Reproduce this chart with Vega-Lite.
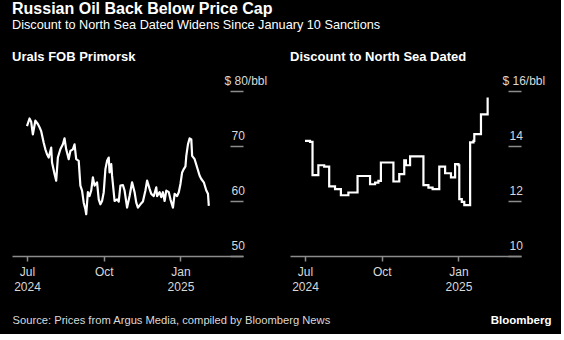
{
  "$schema": "https://vega.github.io/schema/vega-lite/v6.json",
  "background": "#000000",
  "padding": {"left": 12, "top": 1, "right": 10, "bottom": 8},
  "bounds": "flush",
  "spacing": 47,
  "config": {
    "font": "Liberation Sans",
    "view": {"stroke": null},
    "axis": {"grid": false}
  },
  "title": {
    "text": "Russian Oil Back Below Price Cap",
    "subtitle": "Discount to North Sea Dated Widens Since January 10 Sanctions",
    "anchor": "start",
    "color": "#ffffff",
    "fontSize": 16,
    "fontWeight": "bold",
    "subtitleColor": "#ffffff",
    "subtitleFontSize": 12.7,
    "subtitlePadding": 2,
    "offset": 19
  },
  "hconcat": [
    {
      "width": 231,
      "height": 165,
      "title": {"text": "Urals FOB Primorsk", "anchor": "start", "fontSize": 13, "fontWeight": "bold", "color": "#ffffff", "offset": 10},
      "data": {"values": [
        {"date": "2024-07-01", "price": 73.6},
        {"date": "2024-07-04", "price": 75.0},
        {"date": "2024-07-06", "price": 74.4},
        {"date": "2024-07-08", "price": 72.1},
        {"date": "2024-07-11", "price": 74.6},
        {"date": "2024-07-14", "price": 74.0},
        {"date": "2024-07-16", "price": 73.4},
        {"date": "2024-07-18", "price": 72.7},
        {"date": "2024-07-21", "price": 70.6},
        {"date": "2024-07-23", "price": 69.4},
        {"date": "2024-07-25", "price": 68.5},
        {"date": "2024-07-27", "price": 67.9},
        {"date": "2024-07-30", "price": 69.7},
        {"date": "2024-07-31", "price": 67.0},
        {"date": "2024-08-03", "price": 64.9},
        {"date": "2024-08-05", "price": 63.7},
        {"date": "2024-08-07", "price": 67.9},
        {"date": "2024-08-10", "price": 69.4},
        {"date": "2024-08-13", "price": 70.3},
        {"date": "2024-08-15", "price": 71.4},
        {"date": "2024-08-17", "price": 69.4},
        {"date": "2024-08-20", "price": 67.6},
        {"date": "2024-08-22", "price": 69.1},
        {"date": "2024-08-25", "price": 69.4},
        {"date": "2024-08-27", "price": 70.3},
        {"date": "2024-08-29", "price": 67.6},
        {"date": "2024-09-01", "price": 67.3},
        {"date": "2024-09-03", "price": 62.8},
        {"date": "2024-09-05", "price": 61.9},
        {"date": "2024-09-07", "price": 59.7},
        {"date": "2024-09-09", "price": 58.5},
        {"date": "2024-09-10", "price": 57.6},
        {"date": "2024-09-12", "price": 61.6},
        {"date": "2024-09-14", "price": 60.9},
        {"date": "2024-09-16", "price": 61.9},
        {"date": "2024-09-18", "price": 64.3},
        {"date": "2024-09-20", "price": 62.8},
        {"date": "2024-09-23", "price": 63.4},
        {"date": "2024-09-25", "price": 60.3},
        {"date": "2024-09-27", "price": 59.4},
        {"date": "2024-09-29", "price": 60.0},
        {"date": "2024-10-01", "price": 61.6},
        {"date": "2024-10-03", "price": 65.8},
        {"date": "2024-10-05", "price": 67.3},
        {"date": "2024-10-07", "price": 67.9},
        {"date": "2024-10-08", "price": 65.2},
        {"date": "2024-10-10", "price": 66.7},
        {"date": "2024-10-11", "price": 64.6},
        {"date": "2024-10-14", "price": 60.0},
        {"date": "2024-10-17", "price": 60.3},
        {"date": "2024-10-19", "price": 59.9},
        {"date": "2024-10-21", "price": 62.8},
        {"date": "2024-10-24", "price": 62.9},
        {"date": "2024-10-26", "price": 61.9},
        {"date": "2024-10-29", "price": 58.8},
        {"date": "2024-11-01", "price": 60.9},
        {"date": "2024-11-04", "price": 63.4},
        {"date": "2024-11-07", "price": 61.6},
        {"date": "2024-11-09", "price": 59.7},
        {"date": "2024-11-11", "price": 58.8},
        {"date": "2024-11-14", "price": 59.4},
        {"date": "2024-11-17", "price": 59.9},
        {"date": "2024-11-20", "price": 61.9},
        {"date": "2024-11-22", "price": 63.7},
        {"date": "2024-11-25", "price": 62.2},
        {"date": "2024-11-27", "price": 61.3},
        {"date": "2024-11-30", "price": 60.9},
        {"date": "2024-12-03", "price": 62.5},
        {"date": "2024-12-04", "price": 60.9},
        {"date": "2024-12-07", "price": 61.6},
        {"date": "2024-12-09", "price": 60.7},
        {"date": "2024-12-11", "price": 61.6},
        {"date": "2024-12-13", "price": 60.0},
        {"date": "2024-12-15", "price": 61.9},
        {"date": "2024-12-18", "price": 61.6},
        {"date": "2024-12-20", "price": 60.3},
        {"date": "2024-12-23", "price": 58.8},
        {"date": "2024-12-25", "price": 61.3},
        {"date": "2024-12-28", "price": 60.9},
        {"date": "2024-12-30", "price": 61.6},
        {"date": "2025-01-01", "price": 63.1},
        {"date": "2025-01-03", "price": 65.2},
        {"date": "2025-01-05", "price": 65.8},
        {"date": "2025-01-07", "price": 66.3},
        {"date": "2025-01-08", "price": 68.2},
        {"date": "2025-01-10", "price": 70.3},
        {"date": "2025-01-12", "price": 71.4},
        {"date": "2025-01-14", "price": 71.2},
        {"date": "2025-01-15", "price": 68.2},
        {"date": "2025-01-18", "price": 67.6},
        {"date": "2025-01-21", "price": 66.1},
        {"date": "2025-01-24", "price": 64.6},
        {"date": "2025-01-26", "price": 64.0},
        {"date": "2025-01-29", "price": 63.4},
        {"date": "2025-02-01", "price": 61.9},
        {"date": "2025-02-03", "price": 61.3},
        {"date": "2025-02-04", "price": 59.1}
      ]},
      "mark": {"type": "line", "color": "#ffffff", "strokeWidth": 2.2, "strokeJoin": "round"},
      "encoding": {
        "x": {
          "field": "date", "type": "temporal",
          "scale": {"type": "utc", "domain": [{"year": 2024, "month": 6, "date": 13, "utc": true}, {"year": 2025, "month": 3, "date": 17, "utc": true}], "nice": false},
          "axis": {
            "tickCount": {"interval": "month", "step": 3},
            "labelExpr": "utcmonth(datum.value) == 9 ? 'Oct' : [utcFormat(datum.value, '%b'), utcFormat(datum.value, '%Y')]",
            "labelFontSize": 12, "labelColor": "#d9d9d9", "labelPadding": 5, "labelLineHeight": 15,
            "labelFlush": false, "labelOverlap": false,
            "domainColor": "#8c8c8c", "domainWidth": 1.5,
            "tickColor": "#8c8c8c", "tickSize": 5, "tickWidth": 1.5,
            "title": "Source: Prices from Argus Media, compiled by Bloomberg News",
            "titleAnchor": "start", "titleAlign": "left", "titleFontSize": 11.2, "titleFontWeight": "normal",
            "titleColor": "#d9d9d9", "titlePadding": 22
          }
        },
        "y": {
          "field": "price", "type": "quantitative",
          "scale": {"domain": [50, 80], "nice": false, "zero": false},
          "axis": {
            "orient": "right", "offset": -13, "domain": false,
            "values": [50, 60, 70, 80],
            "tickSize": 13, "tickColor": "#8c8c8c", "tickWidth": 1.5,
            "labelAlign": "left", "labelBaseline": "bottom",
            "labelPadding": {"condition": {"test": "datum.value == 80", "value": -19}, "value": -12},
            "labelOffset": -4,
            "labelFontSize": 12, "labelColor": "#d9d9d9",
            "labelExpr": "datum.value == 80 ? '$ 80/bbl' : datum.label",
            "title": null
          }
        }
      }
    },
    {
      "width": 231,
      "height": 165,
      "title": {"text": "Discount to North Sea Dated", "anchor": "start", "fontSize": 13, "fontWeight": "bold", "color": "#ffffff", "offset": 10},
      "data": {"values": [
        {"date": "2024-07-01", "discount": 14.19},
        {"date": "2024-07-07", "discount": 14.15},
        {"date": "2024-07-10", "discount": 12.94},
        {"date": "2024-07-17", "discount": 13.30},
        {"date": "2024-07-24", "discount": 13.25},
        {"date": "2024-07-30", "discount": 12.53},
        {"date": "2024-08-06", "discount": 12.43},
        {"date": "2024-08-13", "discount": 12.21},
        {"date": "2024-08-22", "discount": 12.31},
        {"date": "2024-09-02", "discount": 12.91},
        {"date": "2024-09-17", "discount": 12.61},
        {"date": "2024-09-23", "discount": 12.67},
        {"date": "2024-09-27", "discount": 12.73},
        {"date": "2024-09-30", "discount": 13.40},
        {"date": "2024-10-15", "discount": 12.71},
        {"date": "2024-10-22", "discount": 12.98},
        {"date": "2024-10-28", "discount": 13.48},
        {"date": "2024-10-30", "discount": 13.30},
        {"date": "2024-11-04", "discount": 13.62},
        {"date": "2024-11-20", "discount": 12.58},
        {"date": "2024-11-26", "discount": 12.49},
        {"date": "2024-12-01", "discount": 12.43},
        {"date": "2024-12-09", "discount": 13.25},
        {"date": "2024-12-16", "discount": 13.01},
        {"date": "2024-12-23", "discount": 12.86},
        {"date": "2024-12-28", "discount": 13.34},
        {"date": "2025-01-01", "discount": 13.30},
        {"date": "2025-01-02", "discount": 12.07},
        {"date": "2025-01-05", "discount": 11.97},
        {"date": "2025-01-08", "discount": 11.85},
        {"date": "2025-01-15", "discount": 14.13},
        {"date": "2025-01-19", "discount": 14.19},
        {"date": "2025-01-20", "discount": 14.43},
        {"date": "2025-01-28", "discount": 15.15},
        {"date": "2025-02-05", "discount": 15.76}
      ]},
      "mark": {"type": "line", "color": "#ffffff", "strokeWidth": 2.2, "interpolate": "step-after"},
      "encoding": {
        "x": {
          "field": "date", "type": "temporal",
          "scale": {"type": "utc", "domain": [{"year": 2024, "month": 6, "date": 13, "utc": true}, {"year": 2025, "month": 3, "date": 17, "utc": true}], "nice": false},
          "axis": {
            "tickCount": {"interval": "month", "step": 3},
            "labelExpr": "utcmonth(datum.value) == 9 ? 'Oct' : [utcFormat(datum.value, '%b'), utcFormat(datum.value, '%Y')]",
            "labelFontSize": 12, "labelColor": "#d9d9d9", "labelPadding": 5, "labelLineHeight": 15,
            "labelFlush": false, "labelOverlap": false,
            "domainColor": "#8c8c8c", "domainWidth": 1.5,
            "tickColor": "#8c8c8c", "tickSize": 5, "tickWidth": 1.5,
            "title": "Bloomberg",
            "titleX": 261, "titleAlign": "right", "titleFontSize": 11.5, "titleFontWeight": "bold",
            "titleColor": "#ffffff", "titlePadding": 22
          }
        },
        "y": {
          "field": "discount", "type": "quantitative",
          "scale": {"domain": [10, 16], "nice": false, "zero": false},
          "axis": {
            "orient": "right", "offset": -13, "domain": false,
            "values": [10, 12, 14, 16],
            "tickSize": 13, "tickColor": "#8c8c8c", "tickWidth": 1.5,
            "labelAlign": "left", "labelBaseline": "bottom",
            "labelPadding": {"condition": {"test": "datum.value == 16", "value": -19}, "value": -12},
            "labelOffset": -4,
            "labelFontSize": 12, "labelColor": "#d9d9d9",
            "labelExpr": "datum.value == 16 ? '$ 16/bbl' : datum.label",
            "title": null
          }
        }
      }
    }
  ]
}
